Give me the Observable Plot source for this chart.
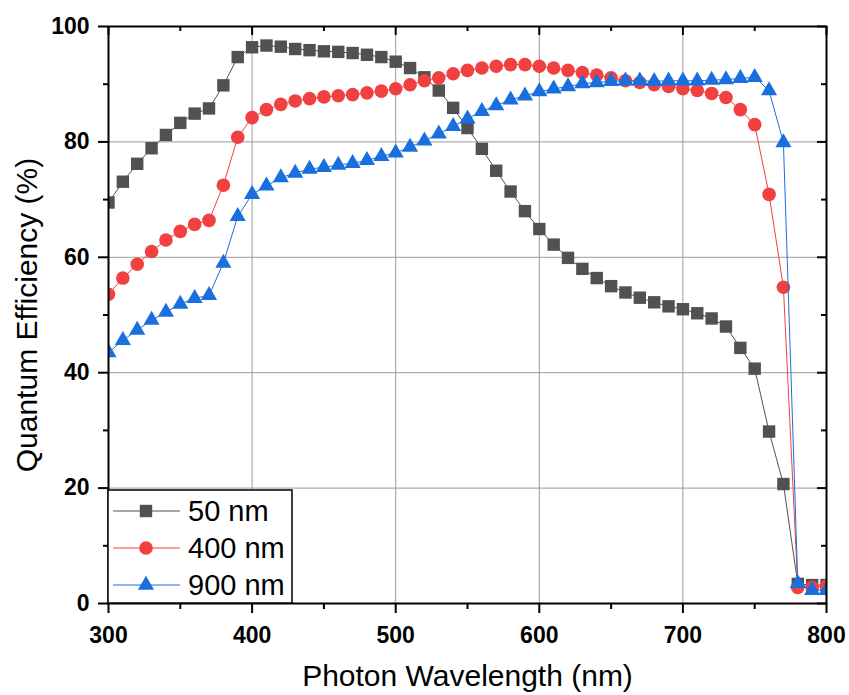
<!DOCTYPE html>
<html><head><meta charset="utf-8">
<script src="https://cdn.jsdelivr.net/npm/d3@7"></script>
<script src="https://cdn.jsdelivr.net/npm/@observablehq/plot@0.6"></script>
<style>
body{margin:0;background:#fff;}
#wrap{position:relative;width:849px;height:695px;font-family:Arial,"Liberation Sans",sans-serif;}
</style></head><body><div id="wrap"></div>
<script>
const wavelengths = [300,310,320,330,340,350,360,370,380,390,400,410,420,430,440,450,460,470,480,490,500,510,520,530,540,550,560,570,580,590,600,610,620,630,640,650,660,670,680,690,700,710,720,730,740,750,760,770,780,790,800];
const qe50 = [69.5,73.1,76.2,78.9,81.2,83.3,84.9,85.8,89.8,94.7,96.4,96.7,96.5,96.1,95.9,95.7,95.6,95.4,95.1,94.7,93.9,92.8,91.2,88.9,85.9,82.4,78.8,75.0,71.4,68.0,64.9,62.2,59.9,58.0,56.4,55.0,53.9,53.0,52.2,51.5,51.0,50.3,49.4,48.0,44.3,40.7,29.8,20.7,3.4,3.2,3.2];
const qe400 = [53.6,56.4,58.8,61.0,63.0,64.5,65.7,66.4,72.5,80.8,84.2,85.6,86.5,87.1,87.5,87.8,88.0,88.2,88.5,88.8,89.2,89.9,90.6,91.1,91.8,92.4,92.8,93.1,93.4,93.4,93.1,92.8,92.4,92.0,91.6,91.1,90.6,90.3,89.9,89.6,89.2,88.9,88.4,87.7,85.6,83.0,70.9,54.8,2.8,2.8,3.0];
const qe900 = [43.5,45.6,47.4,49.1,50.5,51.9,52.9,53.4,59.0,67.1,70.9,72.4,73.8,74.6,75.3,75.6,76.0,76.3,76.8,77.5,78.1,79.1,80.2,81.4,82.7,84.0,85.3,86.3,87.3,88.0,88.7,89.2,89.6,90.1,90.3,90.5,90.6,90.6,90.5,90.6,90.6,90.6,90.7,90.8,91.0,91.2,88.9,79.9,3.5,2.3,2.3];

const seriesNames = ["50 nm","400 nm","900 nm"];
const seriesValues = [qe50, qe400, qe900];
const seriesColors = ["#515151","#F14040","#1A6FDF"];
const seriesSymbols = ["square","circle","triangle"];
const seriesR = [7.0, 6.8, 6.0];

const xTicks = [300,400,500,600,700,800];
const xMinor = [350,450,550,650,750];
const yTicks = [0,20,40,60,80,100];
const yMinor = [10,30,50,70,90];
const xGrid = [400,500,600,700];
const yGrid = [20,40,60,80];
const xTitle = "Photon Wavelength (nm)";
const yTitle = "Quantum Efficiency (%)";

const FONT = 'Arial, "Liberation Sans", sans-serif';
const W = 849, H = 695, ML = 108, MR = 23, MT = 26, MB = 92;
const FW = W - ML - MR, FH = H - MT - MB;

const seriesMarks = seriesNames.flatMap((name, s) => {
  const rows = wavelengths.map((w, i) => ({w, v: seriesValues[s][i]}));
  return [
    Plot.line(rows, {x: "w", y: "v", stroke: seriesColors[s], strokeWidth: 1, clip: true}),
    Plot.dot(rows, {x: "w", y: "v", symbol: seriesSymbols[s], r: seriesR[s], fill: seriesColors[s], stroke: "none", clip: true})
  ];
});

// tick helpers (length in px, positive = outward, negative = inward)
const tickBottom = (data, len) => Plot.tickX(data, {x: d => d, insetTop: FH, insetBottom: -len, stroke: "black", strokeWidth: 2});
const tickTop = (data, len) => Plot.tickX(data, {x: d => d, insetTop: 0, insetBottom: FH - len, stroke: "black", strokeWidth: 2});
const tickLeft = (data, len) => Plot.tickY(data, {y: d => d, insetLeft: -len, insetRight: FW, stroke: "black", strokeWidth: 2});
const tickRight = (data, len) => Plot.tickY(data, {y: d => d, insetLeft: FW - len, insetRight: 0, stroke: "black", strokeWidth: 2});

const chart = Plot.plot({
  width: W, height: H,
  marginLeft: ML, marginRight: MR, marginTop: MT, marginBottom: MB,
  x: {domain: [300, 800], axis: null},
  y: {domain: [0, 100], axis: null},
  style: {fontFamily: FONT, background: "white", color: "black"},
  marks: [
    Plot.gridX(xGrid, {stroke: "#9a9a9a", strokeOpacity: 1, strokeWidth: 1}),
    Plot.gridY(yGrid, {stroke: "#9a9a9a", strokeOpacity: 1, strokeWidth: 1}),
    ...seriesMarks,
    Plot.frame({stroke: "black", strokeWidth: 2}),
    tickBottom(xTicks, 10), tickBottom(xMinor, 6),
    tickTop(xTicks, 9), tickTop(xMinor, 5),
    tickLeft(yTicks, 10), tickLeft(yMinor, 5),
    tickRight(yTicks, 9), tickRight(yMinor, 5),
    Plot.text(xTicks, {x: d => d, text: d => String(d), frameAnchor: "bottom", dy: 23, lineAnchor: "top", textAnchor: "middle", fontSize: 23, fontWeight: "bold", fill: "black"}),
    Plot.text(yTicks, {y: d => d, text: d => String(d), frameAnchor: "left", dx: -19, lineAnchor: "middle", textAnchor: "end", fontSize: 23, fontWeight: "bold", fill: "black"}),
    Plot.text([xTitle], {text: d => d, frameAnchor: "bottom", dy: 73, lineAnchor: "middle", textAnchor: "middle", fontSize: 30, fill: "black"}),
    Plot.text([yTitle], {text: d => d, frameAnchor: "left", dx: -81, rotate: -90, lineAnchor: "middle", textAnchor: "middle", fontSize: 30, fill: "black"})
  ]
});

const wrap = document.getElementById("wrap");
wrap.appendChild(chart);

// legend overlay
const lg = d3.select(wrap).append("svg")
  .style("position", "absolute").style("left", "107px").style("top", "489px")
  .attr("width", 187).attr("height", 116);
lg.append("rect").attr("x", 1).attr("y", 1).attr("width", 184).attr("height", 113)
  .attr("fill", "white").attr("stroke", "black").attr("stroke-width", 1.5);
const rowY = [22, 59, 96];
seriesNames.forEach((name, s) => {
  const g = lg.append("g").attr("transform", `translate(0,${rowY[s]})`);
  g.append("line").attr("x1", 6).attr("x2", 73).attr("y1", 0).attr("y2", 0)
    .attr("stroke", seriesColors[s]).attr("stroke-width", 1);
  const sym = {square: d3.symbolSquare, circle: d3.symbolCircle, triangle: d3.symbolTriangle}[seriesSymbols[s]];
  g.append("path").attr("transform", "translate(39,0)")
    .attr("d", d3.symbol(sym, Math.PI * seriesR[s] * seriesR[s])())
    .attr("fill", seriesColors[s]);
  g.append("text").attr("x", 81).attr("y", 0).attr("dy", "0.35em")
    .attr("font-family", FONT).attr("font-size", 29).attr("fill", "black").text(name);
});
</script></body></html>
